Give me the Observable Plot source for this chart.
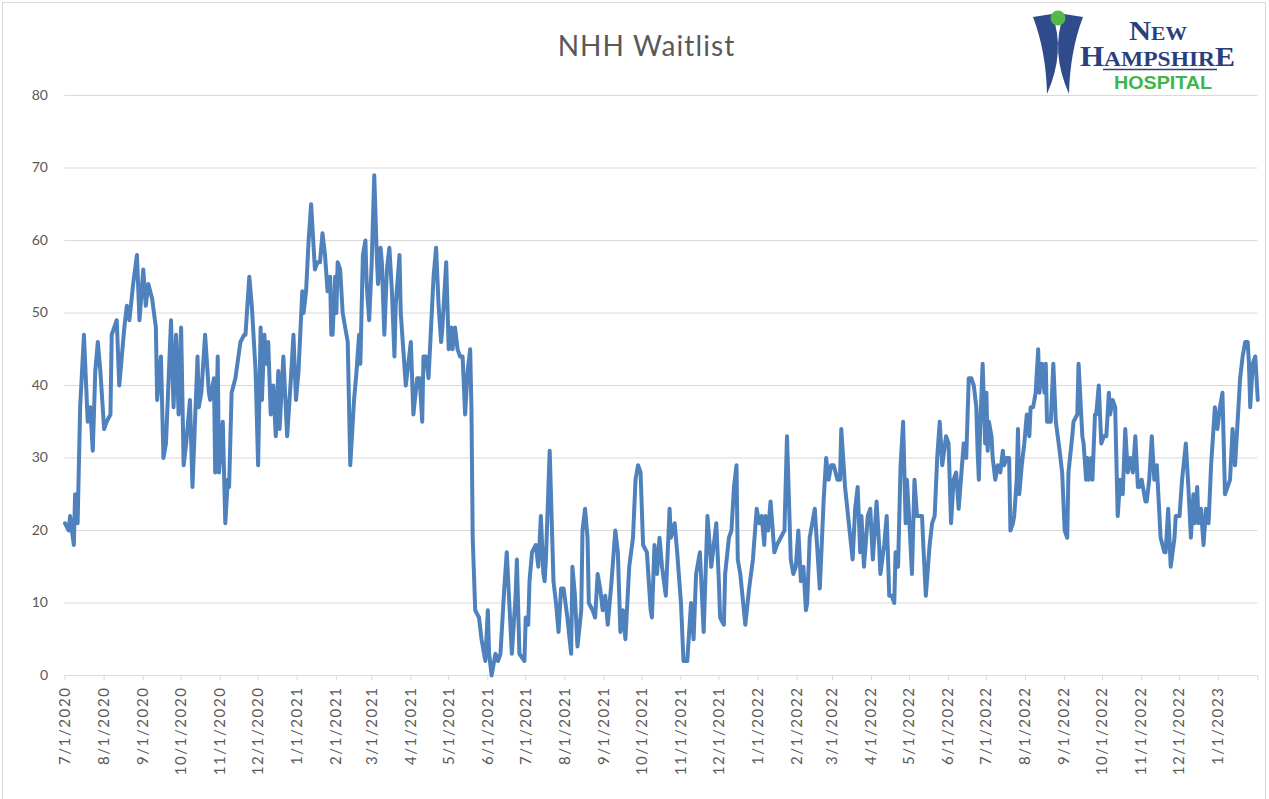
<!DOCTYPE html>
<html>
<head>
<meta charset="utf-8">
<script src="https://cdn.jsdelivr.net/npm/d3@7"></script>
<script src="https://cdn.jsdelivr.net/npm/@observablehq/plot@0.6"></script>
<style>
  html, body { margin: 0; padding: 0; background: #fff; }
  #wrap { position: relative; width: 1269px; height: 799px; overflow: hidden; background: #fff; font-family: Lato, "Open Sans", sans-serif; }
  #frame { position: absolute; left: 2px; top: 2px; width: 1264px; height: 800px; border: 1px solid #d9d9d9; box-sizing: border-box; pointer-events: none; }
  #title { height: 80px; box-sizing: border-box; padding-top: 28px; padding-left: 24px; text-align: center; font-size: 28px; letter-spacing: 1.1px; color: #595959; line-height: 34px; }
  #logo { position: absolute; left: 1030px; top: 5px; }
  #chart svg { display: block; }
</style>
</head>
<body>
<div id="wrap">
  <div id="title">NHH Waitlist</div>
  <div id="chart"></div>
  <svg id="logo" width="210" height="90" viewBox="0 0 210 90">
    <path d="M 3 12 L 22 9 Q 36 46 17 89 Q 16 46 3 12 Z" fill="#2f4b8c"/>
    <path d="M 53 12 L 34 9 Q 20 46 39 89 Q 40 46 53 12 Z" fill="#2f4b8c"/>
    <circle cx="28" cy="13" r="7.5" fill="#55b847"/>
    <text x="99" y="35" font-family="'Liberation Serif', 'DejaVu Serif', serif" font-weight="bold" fill="#2a3f7e" textLength="58" lengthAdjust="spacingAndGlyphs"><tspan font-size="27">N</tspan><tspan font-size="19">EW</tspan></text>
    <text x="50" y="61" font-family="'Liberation Serif', 'DejaVu Serif', serif" font-weight="bold" fill="#2a3f7e" textLength="155" lengthAdjust="spacingAndGlyphs"><tspan font-size="29">H</tspan><tspan font-size="22">AMPSHIR</tspan><tspan font-size="28">E</tspan></text>
    <line x1="73" y1="64.5" x2="187" y2="64.5" stroke="#2a3f7e" stroke-width="1.5"/>
    <text x="84" y="84" font-family="'Liberation Sans', Arial, sans-serif" font-weight="bold" font-size="18" fill="#3db54a" textLength="98" lengthAdjust="spacingAndGlyphs">HOSPITAL</text>
  </svg>
  <div id="frame"></div>
</div>
<script>
// ---- data ----
const startDate = "2020-07-01";
const endDate = "2023-02-01";

// day offsets from startDate of each reading
const dayOffsets = [
  0,3,4,7,8,10,12,15,17,18, 20,22,24,26,28,31,33,36,37,41, 43,45,47,49,51,54,57,59,62,64, 66,69,72,73,76,78,80,84,86,88, 90,92,94,96,99,101,105,106,108,
  111,114,115,118,119,121,122,125,127,129, 130,132,135,139,142,143,146,148,151,153, 155,156,158,159,161,163,165,167,169,170, 173,176,179,181,183,185,188,189,191,193, 195,198,200,202,204,206,208,210,211,212, 214,215,216,218,220,222,224,
  226,229,231,233,234,236,238,239,241,243, 245,247,248,250,251,253,255,257,259,261, 262,265,266,268,270,272,274,276,279,281, 283,284,286,288,290,292,294,296,298,299, 302,304,306,307,309,311,313,315,317,319, 321,322,323,325,328,330,333,335,336,338, 341,343,345,348,350,
  354,357,358,360,364,365,367,368,370,373, 375,377,379,380,381,384,387,389,391,393, 395,398,401,402,404,406,409,410,412,414, 415,418,420,422,424,426,428,430,433,436, 438,440,442,444,447,450,452,454,456,458, 461,464,465,467,469,471,473,
  476,479,480,483,485,488,490,493,496,498, 500,503,506,509,512,514,516,518,519,522, 523,526,528,530,532,533,535,539,542,545, 548,550,552,554,555,557,559,562,564,567, 570,572,575,577,579,581,583,585,587,588, 590,594,
  598,601,603,605,607,609,612,614,615,618, 621,624,626,628,630,631,633,636,638,640, 643,645,646,649,651,653,655,657,658,660, 662,664,666,667,669,671,673,675,679,680, 682,685,687,689,691,693,695,698,700,702, 704,706,708,712,714,716,
  718,720,722,723,724,725,727,729,730,731, 732,734,735,737,739,741,743,744,746,748, 749,751,752,754,755,756,758,760,762,764, 765,767,769,771,772,774,776,777,778,781, 783,785,788,790,792,794,795,798,799,802, 803,806,807,809,810,811,813,814,816,817, 819,821,823,825,827,828,830,832,
  834,836,838,840,842,844,846,848,850,851, 853,856,857,859,861,863,865,868,871,872, 874,876,879,880,883,885,888,890,892,894, 895,897,898,900,902,904,906,908,911,913, 915,917,919,921,923,925,927,929,931,933, 935,937,938,939,941,943,944,945
];

// waitlist count at each reading
const waitlist = [
  21,20,22,18,25,21,37,47,39,35, 37,31,42,46,42,34,35,36,47,49, 40,44,48,51,49,54,58,49,56,51, 54,52,48,38,44,30,32,49,37,47, 36,48,29,32,38,26,44,37,39,
  47,39,38,41,28,44,28,35,21,27, 26,39,41,46,47,47,55,51,42,29, 48,38,47,43,46,36,40,33,42,34, 44,33,41,47,38,42,53,50,53,60, 65,56,57,57,61,58,53,55,47,47, 55,50,57,56,50,48,46,
  29,38,42,47,43,58,60,54,49,57, 69,58,54,59,57,47,56,59,53,44, 51,58,50,45,40,43,46,36,41,41, 35,44,44,41,48,55,59,51,46,48, 57,45,48,45,48,45,44,44,36,42, 45,37,19,9,8,5,2,9,3,0, 3,2,3,12,17,
  3,11,16,3,2,8,7,13,17,18, 15,22,14,13,16,31,13,10,6,12, 12,8,3,15,11,4,9,20,23,19, 10,9,8,14,12,9,11,7,13,20, 17,6,9,5,15,19,27,29,28,18, 17,9,8,18,14,19,15,
  11,23,19,21,17,10,2,2,10,5, 14,17,6,22,15,18,21,13,8,7, 14,19,20,26,29,16,14,7,12,16, 23,21,22,18,22,20,24,17,18,19, 20,33,16,14,15,20,13,15,9,10, 19,23,
  12,24,30,27,29,29,27,27,34,26, 21,16,23,26,17,22,15,22,23,16, 24,18,14,18,22,11,11,10,17,15, 29,35,21,27,21,14,27,22,22,18, 11,18,21,22,30,35,29,33,32,21, 27,28,23,32,30,41,
  41,40,37,31,27,34,43,32,39,31, 35,33,30,27,29,28,31,29,30,30, 20,21,22,27,34,25,29,32,36,33, 37,37,39,45,39,43,39,43,35,35, 43,35,31,28,20,19,28,33,35,36, 43,33,32,27,30,27,30,27,36,36, 40,32,33,33,39,36,38,37,
  22,27,25,34,28,30,28,33,26,26, 27,24,24,27,33,27,29,19,17,17, 23,15,19,22,22,27,32,26,19,25, 21,26,21,23,18,23,21,29,37,34, 37,39,25,26,27,34,29,35,41,44, 46,46,43,37,43,44,41,38
];

const tickLabels = [
  "7/1/2020","8/1/2020","9/1/2020","10/1/2020","11/1/2020","12/1/2020",
  "1/1/2021","2/1/2021","3/1/2021","4/1/2021","5/1/2021","6/1/2021",
  "7/1/2021","8/1/2021","9/1/2021","10/1/2021","11/1/2021","12/1/2021",
  "1/1/2022","2/1/2022","3/1/2022","4/1/2022","5/1/2022","6/1/2022",
  "7/1/2022","8/1/2022","9/1/2022","10/1/2022","11/1/2022","12/1/2022",
  "1/1/2023"
];
const yTicks = [0, 10, 20, 30, 40, 50, 60, 70, 80];

// ---- build ----
if (dayOffsets.length !== waitlist.length) console.error("length mismatch", dayOffsets.length, waitlist.length);
const start = d3.utcParse("%Y-%m-%d")(startDate);
const end = d3.utcParse("%Y-%m-%d")(endDate);
const parseMDY = s => { const [m, d, y] = s.split("/").map(Number); return new Date(Date.UTC(y, m - 1, d)); };
const tickDates = tickLabels.map(parseMDY).concat([end]);
const labelByTime = new Map(tickLabels.map(s => [+parseMDY(s), s]));
const data = dayOffsets.map((o, i) => ({ date: d3.utcDay.offset(start, o), value: waitlist[i] }));

const chart = Plot.plot({
  width: 1269,
  height: 719,
  marginTop: 15,
  marginBottom: 124,
  marginLeft: 64.5,
  marginRight: 11.7,
  x: { type: "utc", domain: [start, end] },
  y: { domain: [0, 80] },
  style: { fontFamily: "Lato, 'Open Sans', sans-serif", fontSize: "13px", color: "#595959", background: "transparent", overflow: "visible" },
  marks: [
    Plot.gridY(yTicks.filter(v => v > 0), { stroke: "#d9d9d9", strokeOpacity: 1, strokeWidth: 1 }),
    Plot.ruleY([0], { stroke: "#d9d9d9", strokeWidth: 1.2 }),
    Plot.axisY(yTicks, { tickSize: 0, tickPadding: 17, label: null, fill: "#595959", fontSize: 14 }),
    Plot.axisX(tickDates, {
      tickSize: 5, tickPadding: 6, tickRotate: -90, label: null,
      stroke: "#d9d9d9", fill: "#595959", fontSize: 15,
      tickFormat: d => labelByTime.get(+d) || ""
    }),
    Plot.line(data, { x: "date", y: "value", stroke: "#4f81bd", strokeWidth: 4, strokeLinejoin: "round", strokeLinecap: "round" })
  ]
});
d3.select(chart).selectAll("g[aria-label='x-axis tick label'] text").style("letter-spacing", "1.6px");
document.getElementById("chart").appendChild(chart);
</script>
</body>
</html>
